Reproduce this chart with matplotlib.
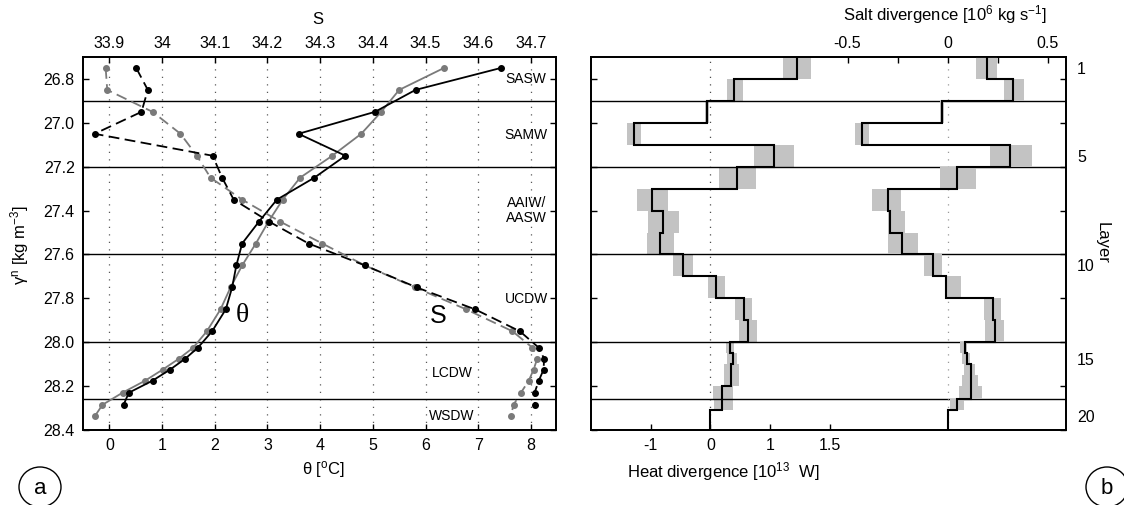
import numpy as np
import matplotlib.pyplot as plt
from matplotlib.patches import Ellipse

plt.rcParams['font.family'] = ['Liberation Sans', 'DejaVu Sans']
plt.rcParams['mathtext.fontset'] = 'custom'
plt.rcParams['mathtext.rm'] = 'Liberation Sans'
plt.rcParams['mathtext.it'] = 'Liberation Sans:italic'
plt.rcParams['font.size'] = 11.5

# ---- panel a: profiles on neutral density ----
gamma = [26.75, 26.85, 26.95, 27.05, 27.15, 27.25, 27.35, 27.45, 27.55, 27.65,
         27.75, 27.85, 27.95, 28.025, 28.075, 28.125, 28.175, 28.23, 28.285, 28.335]

theta_black = [7.43, 5.81, 5.04, 3.59, 4.48, 3.89, 3.18, 2.84, 2.52, 2.41,
               2.33, 2.21, 1.95, 1.68, 1.44, 1.15, 0.82, 0.37, 0.27]
theta_gray = [6.35, 5.50, 5.16, 4.78, 4.23, 3.62, 3.29, 3.02, 2.78, 2.52,
              2.30, 2.11, 1.85, 1.59, 1.32, 1.01, 0.68, 0.25, -0.13, -0.27]
salt_black = [33.951, 33.973, 33.961, 33.872, 34.096, 34.114, 34.136, 34.203, 34.278, 34.385,
              34.483, 34.594, 34.679, 34.715, 34.725, 34.724, 34.715, 34.707, 34.708]
salt_gray = [33.893, 33.896, 33.982, 34.035, 34.066, 34.092, 34.152, 34.224, 34.304, 34.385,
             34.480, 34.577, 34.665, 34.703, 34.712, 34.705, 34.696, 34.681, 34.667, 34.662]

boundaries = [26.9, 27.2, 27.6, 28.0, 28.26]
water_masses = ['SASW', 'SAMW', 'AAIW/\nAASW', 'UCDW', 'LCDW', 'WSDW']
wm_gamma = [26.8, 27.055, 27.4, 27.805, 28.138, 28.338]
wm_theta = [7.91, 7.91, 7.91, 7.91, 6.5, 6.5]

# ---- panel b: layer divergences ----
layer_edges = [26.7, 26.8, 26.9, 27.0, 27.1, 27.2, 27.3, 27.4, 27.5, 27.6, 27.7,
               27.8, 27.9, 28.0, 28.05, 28.1, 28.15, 28.2, 28.26, 28.31, 28.4]
heat = [1.445, 0.40, -0.065, -1.28, 1.06, 0.45, -0.98, -0.79, -0.84, -0.455,
        0.095, 0.56, 0.63, 0.32, 0.37, 0.35, 0.35, 0.20, 0.20, 0.0]
heat_lo = [1.22, 0.27, -0.10, -1.40, 0.735, 0.15, -1.23, -1.05, -1.07, -0.63,
           -0.035, 0.41, 0.47, 0.26, 0.28, 0.22, 0.22, 0.035, 0.06, 0.0]
heat_hi = [1.69, 0.54, -0.03, -1.16, 1.40, 0.76, -0.71, -0.53, -0.61, -0.295,
           0.24, 0.70, 0.78, 0.40, 0.44, 0.48, 0.48, 0.38, 0.37, 0.0]
saltdiv = [0.194, 0.326, -0.03, -0.428, 0.312, 0.047, -0.30, -0.29, -0.227, -0.073,
           -0.011, 0.224, 0.236, 0.087, 0.096, 0.116, 0.116, 0.116, 0.046, 0.0]
saltdiv_lo = [0.141, 0.282, -0.04, -0.465, 0.21, -0.04, -0.377, -0.30, -0.30, -0.12,
              -0.015, 0.183, 0.188, 0.0625, 0.071, 0.079, 0.07, 0.054, 0.0125, 0.0]
saltdiv_hi = [0.247, 0.378, -0.02, -0.391, 0.42, 0.139, -0.232, -0.215, -0.15, -0.029,
              0.065, 0.268, 0.282, 0.096, 0.1125, 0.1375, 0.15, 0.17, 0.079, 0.0]
layer_ticks = [1, 5, 10, 15, 20]
heat_ticks = [-1, 0, 1, 2]
heat_ticklabels = ['-1', '0', '1', '1.5']

W, H = 1124, 505
fig = plt.figure(figsize=(W / 100, H / 100), dpi=100)

def box(x0, x1, y0=57, y1=430):
    return [x0 / W, 1 - y1 / H, (x1 - x0) / W, (y1 - y0) / H]

gray = '#7a7a7a'
dash = (0, (6, 3))

# panel a
ax = fig.add_axes(box(83, 556))
ax.set_xlim(-0.5, 8.476)
ax.set_ylim(28.4, 26.7)
axs = ax.twiny()
axs.set_xlim(33.85, 34.7476)

for t in range(9):
    ax.axvline(t, color='0.35', lw=0.9, ls=(0, (1, 5)), zorder=0)
for g in boundaries:
    ax.axhline(g, color='k', lw=1.0, zorder=1)

ax.plot(theta_gray, gamma[:len(theta_gray)], '-o', color=gray, lw=1.3, ms=4)
ax.plot(theta_black, gamma[:len(theta_black)], '-o', color='k', lw=1.3, ms=4)
axs.plot(salt_gray, gamma[:len(salt_gray)], ls=dash, marker='o', color=gray, lw=1.3, ms=4)
axs.plot(salt_black, gamma[:len(salt_black)], ls=dash, marker='o', color='k', lw=1.3, ms=4)

for name, g, t in zip(water_masses, wm_gamma, wm_theta):
    ax.text(t, g, name, ha='center', va='center', fontsize=10, linespacing=1.1)
ax.text(2.53, 27.88, 'θ', fontsize=20, ha='center', va='center', family='Liberation Serif')
ax.text(6.24, 27.88, 'S', fontsize=18, ha='center', va='center')

ax.set_xticks(range(9))
ax.set_yticks(np.arange(26.8, 28.41, 0.2))
ax.set_yticklabels([f'{v:.1f}' for v in np.arange(26.8, 28.41, 0.2)])
ax.tick_params(direction='in', length=4, width=1, right=True, top=False, pad=6)
s_ticks = [33.9, 34.0, 34.1, 34.2, 34.3, 34.4, 34.5, 34.6, 34.7]
axs.set_xticks(s_ticks)
axs.set_xticklabels([f'{v:g}' for v in s_ticks])
axs.tick_params(direction='in', length=4, width=1, pad=4)
for a in (ax, axs):
    for sp in a.spines.values():
        sp.set_linewidth(1.3)

fig.text(318 / W, 1 - 20 / H, 'S', ha='center', va='center', fontsize=12)
fig.text(323 / W, 1 - 470 / H, 'θ [$\\mathregular{^o}$C]', ha='center', va='center', fontsize=12)
fig.text(20 / W, 1 - 245 / H, 'γ$\\mathregular{^n}$ [kg m$\\mathregular{^{-3}}$]',
         ha='center', va='center', rotation=90, fontsize=12)

# panel b
axr = fig.add_axes(box(591, 1066))
axr.set_xlim(-2.0, 5.95)
axr.set_ylim(28.4, 26.7)
axsd = axr.twiny()
axsd.set_xlim(-1.78, 0.59)

edges = np.array(layer_edges)
heights = np.diff(edges)
axr.barh(edges[:-1], np.array(heat_hi) - np.array(heat_lo), left=heat_lo, height=heights,
         align='edge', color='#c3c3c3', lw=0, zorder=1)
axsd.barh(edges[:-1], np.array(saltdiv_hi) - np.array(saltdiv_lo), left=saltdiv_lo, height=heights,
          align='edge', color='#c3c3c3', lw=0, zorder=1)
axr.axvline(0, color='0.3', lw=0.9, ls=(0, (1, 5)), zorder=0)
axsd.axvline(0, color='0.6', lw=0.9, ls=(0, (1, 5)), zorder=0)
for g in boundaries:
    axr.axhline(g, color='k', lw=1.0, zorder=2)
axr.stairs(heat, edges, orientation='horizontal', baseline=None, color='k', lw=1.5, zorder=3)
axsd.stairs(saltdiv, edges, orientation='horizontal', baseline=None, color='k', lw=1.5, zorder=3)

axr.set_xticks(heat_ticks)
axr.set_xticklabels(heat_ticklabels)
axr.set_yticks(np.arange(26.8, 28.41, 0.2))
axr.tick_params(which='major', direction='in', length=4, width=1, right=True,
                labelleft=False, labelright=False, pad=6)
axr.set_yticks([gamma[k - 1] for k in layer_ticks], minor=True)
axr.set_yticklabels([str(k) for k in layer_ticks], minor=True)
axr.tick_params(which='minor', left=False, right=False, labelleft=False, labelright=True, pad=6)
axsd.set_xticks([-0.5, -0.25, 0, 0.25, 0.5])
axsd.set_xticklabels(['-0.5', '', '0', '', '0.5'])
axsd.tick_params(direction='in', length=4, width=1, pad=4)
for a in (axr, axsd):
    for sp in a.spines.values():
        sp.set_linewidth(1.3)

fig.text(945 / W, 1 - 15 / H, 'Salt divergence [10$\\mathregular{^6}$ kg s$\\mathregular{^{-1}}$]',
         ha='center', va='center', fontsize=12)
fig.text(723 / W, 1 - 472 / H, 'Heat divergence [10$\\mathregular{^{13}}$  W]',
         ha='center', va='center', fontsize=12)
fig.text(1102 / W, 1 - 243 / H, 'Layer', ha='center', va='center', rotation=-90, fontsize=12)

# circled panel letters
for cx, letter in ((40, 'a'), (1107, 'b')):
    fig.add_artist(Ellipse((cx / W, 1 - 487 / H), 42 / W, 40 / H, transform=fig.transFigure,
                           fill=False, lw=1.0, color='k'))
    fig.text(cx / W, 1 - 488 / H, letter, ha='center', va='center', fontsize=16)

fig.savefig('out.png', dpi=100)
